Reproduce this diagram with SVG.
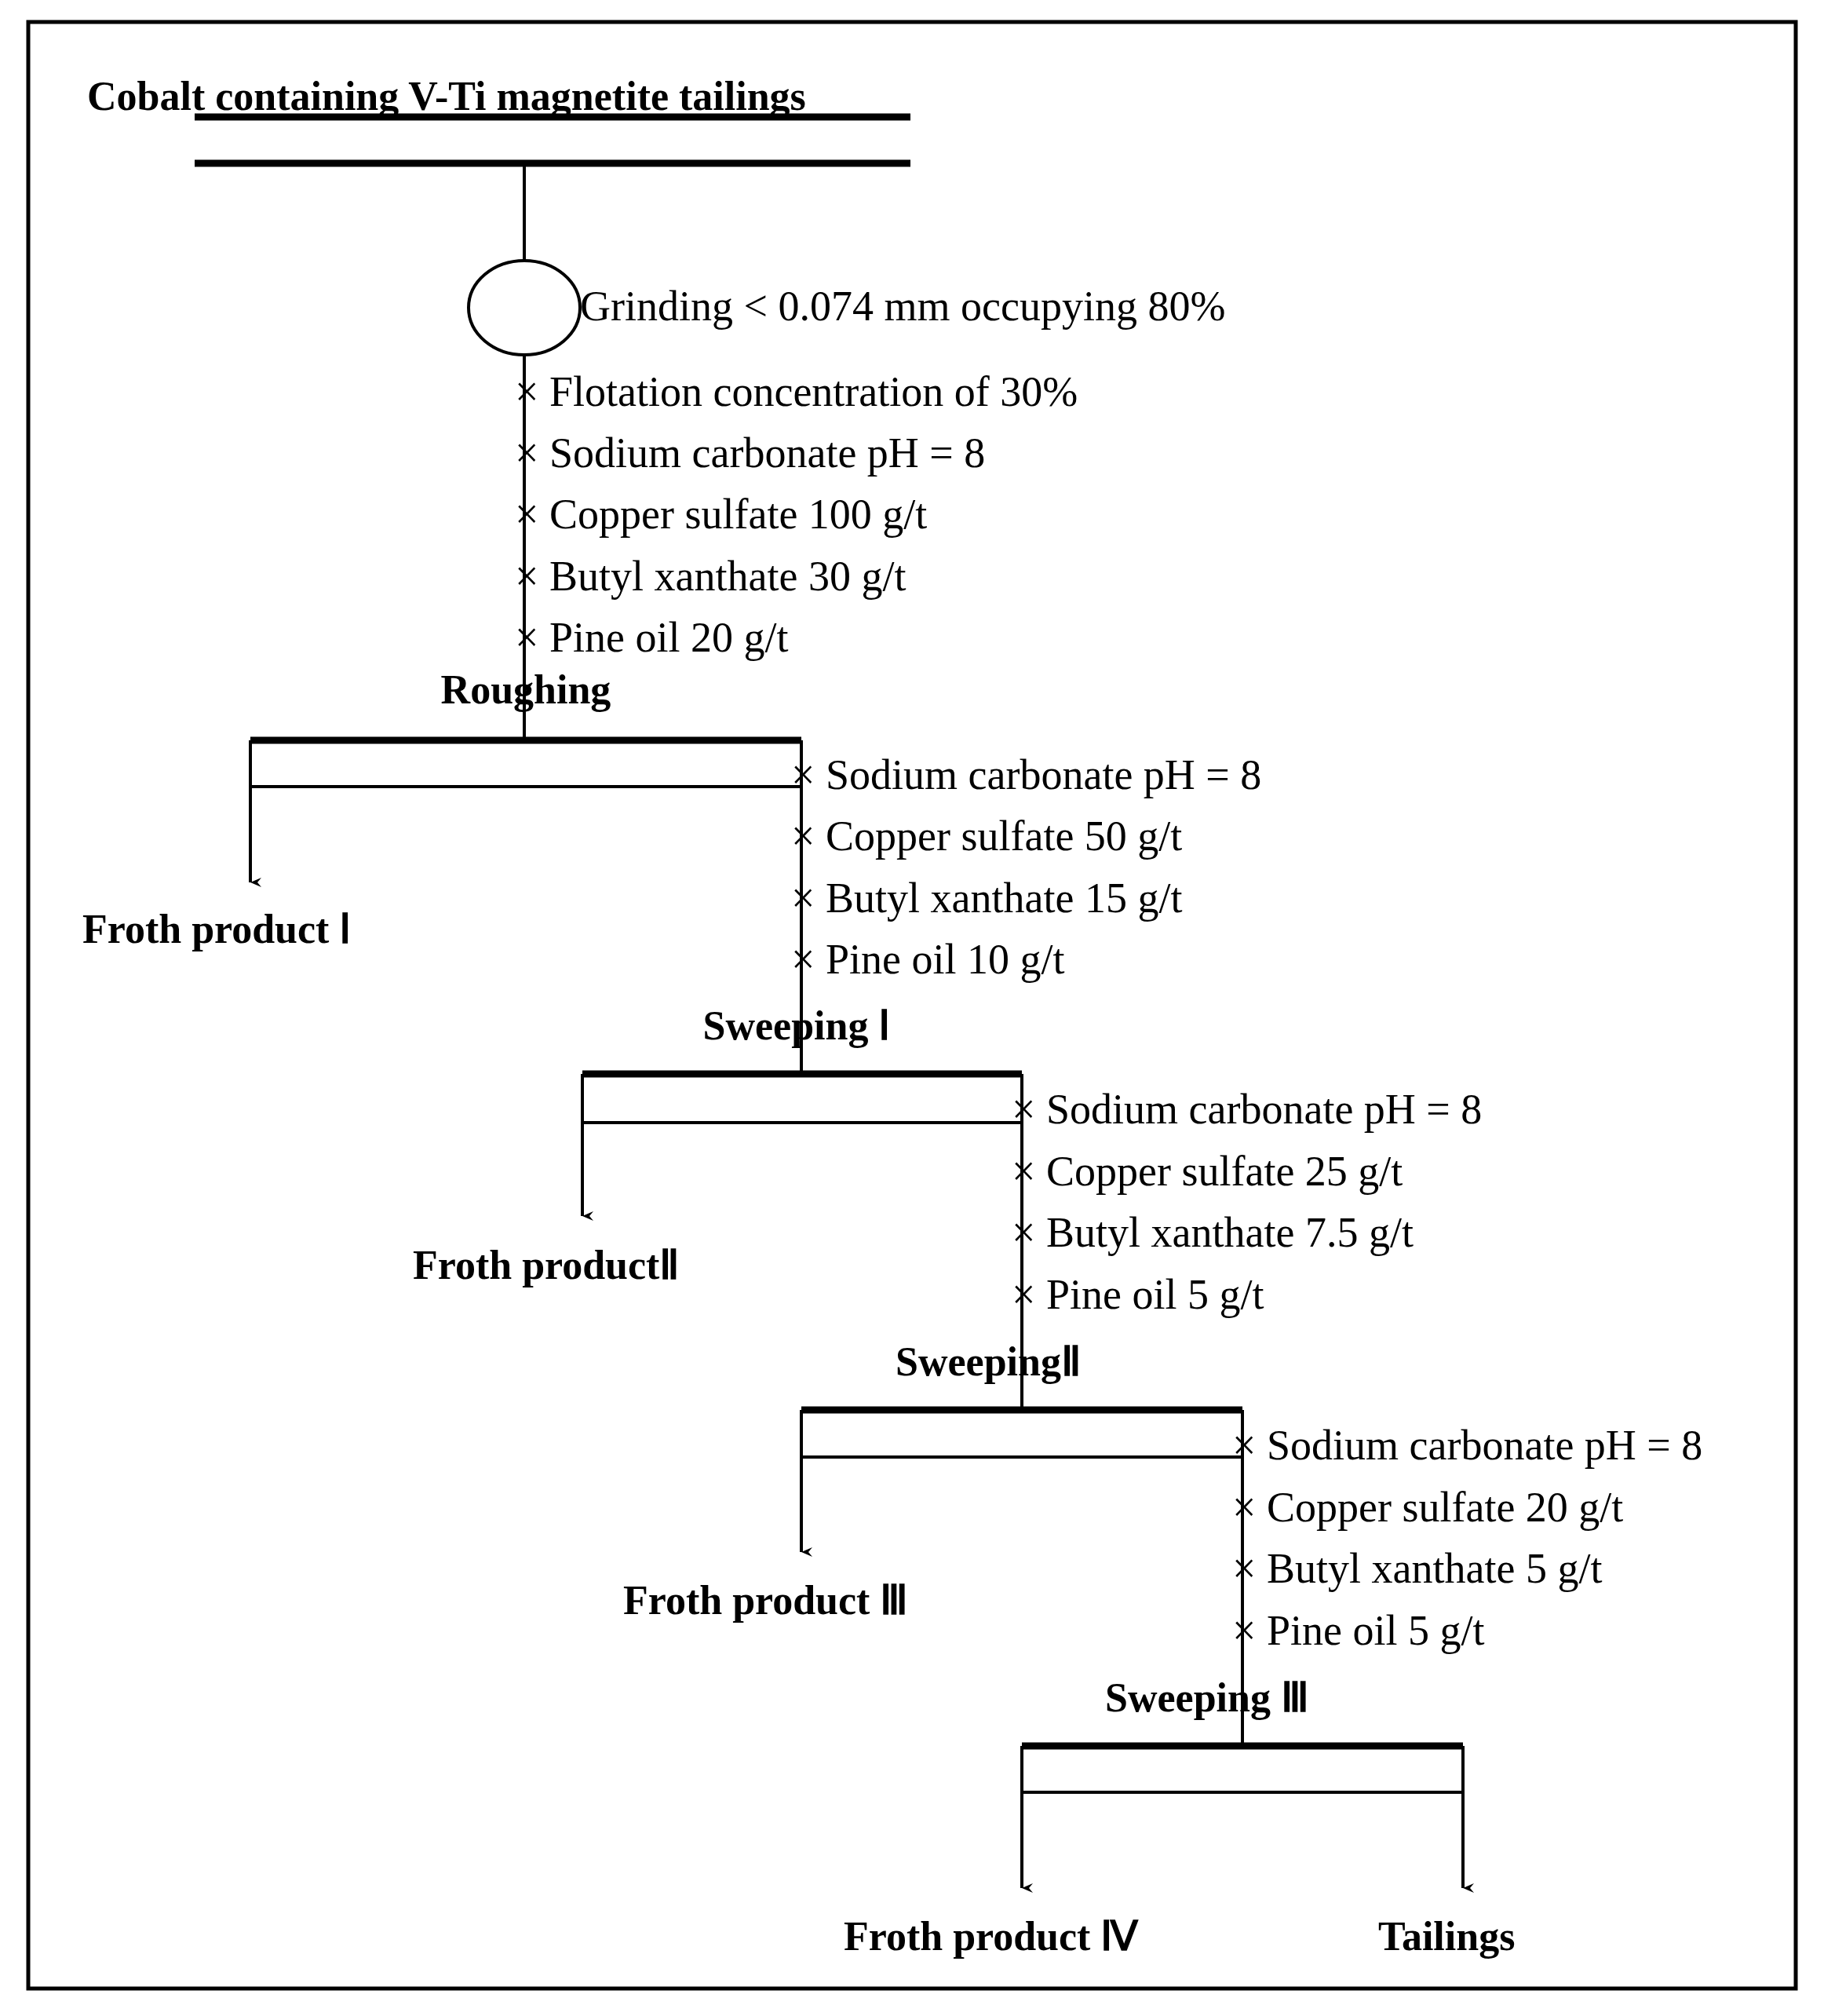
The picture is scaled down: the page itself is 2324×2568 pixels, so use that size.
<svg xmlns="http://www.w3.org/2000/svg" width="2324" height="2568" viewBox="0 0 2324 2568">
<defs>
<style>
.t{font-family:"Liberation Serif",serif;font-size:54px;fill:#000}
.b{font-family:"Liberation Serif",serif;font-size:52px;font-weight:bold;fill:#000}
.thk{stroke:#000;stroke-width:9;fill:none}
.ln{stroke:#000;stroke-width:4;fill:none}
</style>
<marker id="ah" markerWidth="12" markerHeight="14" refX="6" refY="14" orient="auto" markerUnits="userSpaceOnUse" viewBox="0 0 12 14"><path d="M0,0 L6,14 L12,0 L6,5 Z" fill="#000"/></marker>
</defs>
<rect x="36" y="28" width="2252" height="2505" fill="none" stroke="#000" stroke-width="5"/>
<g id="feed">
<text class="b" x="111" y="140">Cobalt containing V-Ti magnetite tailings</text>
<line class="thk" x1="248" y1="149" x2="1160" y2="149"/>
<line class="thk" x1="248" y1="208" x2="1160" y2="208"/>
</g>
<g id="grinding">
<ellipse cx="668" cy="392" rx="71" ry="60" class="ln"/>
<text class="t" x="739" y="408">Grinding &lt; 0.074 mm occupying 80%</text>
</g>
<g id="reag1" class="t">
<text x="656" y="517">× Flotation concentration of 30%</text>
<text x="656" y="595">× Sodium carbonate pH = 8</text>
<text x="656" y="673">× Copper sulfate 100 g/t</text>
<text x="656" y="752">× Butyl xanthate 30 g/t</text>
<text x="656" y="830">× Pine oil 20 g/t</text>
</g>
<g id="roughing">
<text class="b" x="670" y="896" text-anchor="middle">Roughing</text>
<line class="thk" x1="319" y1="943" x2="1021" y2="943"/>
<line class="ln" x1="319" y1="1002" x2="1021" y2="1002"/>
</g>
<g id="froth1"><text class="b" x="105" y="1201">Froth product Ⅰ</text></g>
<g id="reag2" class="t">
<text x="1008" y="1005">× Sodium carbonate pH = 8</text>
<text x="1008" y="1083">× Copper sulfate 50 g/t</text>
<text x="1008" y="1162">× Butyl xanthate 15 g/t</text>
<text x="1008" y="1240">× Pine oil 10 g/t</text>
</g>
<g id="sweep1">
<text class="b" x="1015" y="1324" text-anchor="middle">Sweeping Ⅰ</text>
<line class="thk" x1="742" y1="1368" x2="1302" y2="1368"/>
<line class="ln" x1="742" y1="1430" x2="1302" y2="1430"/>
</g>
<g id="froth2"><text class="b" x="526" y="1629">Froth productⅡ</text></g>
<g id="reag3" class="t">
<text x="1289" y="1431">× Sodium carbonate pH = 8</text>
<text x="1289" y="1510">× Copper sulfate 25 g/t</text>
<text x="1289" y="1588">× Butyl xanthate 7.5 g/t</text>
<text x="1289" y="1667">× Pine oil 5 g/t</text>
</g>
<g id="sweep2">
<text class="b" x="1141" y="1752">SweepingⅡ</text>
<line class="thk" x1="1021" y1="1796" x2="1583" y2="1796"/>
<line class="ln" x1="1021" y1="1856" x2="1583" y2="1856"/>
</g>
<g id="froth3"><text class="b" x="794" y="2056">Froth product  Ⅲ</text></g>
<g id="reag4" class="t">
<text x="1570" y="1859">× Sodium carbonate pH = 8</text>
<text x="1570" y="1938">× Copper sulfate 20 g/t</text>
<text x="1570" y="2016">× Butyl xanthate 5 g/t</text>
<text x="1570" y="2095">× Pine oil 5 g/t</text>
</g>
<g id="sweep3">
<text class="b" x="1408" y="2180">Sweeping  Ⅲ</text>
<line class="thk" x1="1302" y1="2224" x2="1864" y2="2224"/>
<line class="ln" x1="1302" y1="2283" x2="1864" y2="2283"/>
</g>
<g id="froth4"><text class="b" x="1075" y="2484">Froth product  Ⅳ</text></g>
<g id="tailings"><text class="b" x="1756" y="2484">Tailings</text></g>
<g id="connectors" class="ln">
<line x1="668" y1="208" x2="668" y2="332"/>
<line x1="668" y1="452" x2="668" y2="943"/>
<line x1="319" y1="943" x2="319" y2="1124" marker-end="url(#ah)"/>
<line x1="1021" y1="943" x2="1021" y2="1368"/>
<line x1="742" y1="1368" x2="742" y2="1549" marker-end="url(#ah)"/>
<line x1="1302" y1="1368" x2="1302" y2="1796"/>
<line x1="1021" y1="1796" x2="1021" y2="1977" marker-end="url(#ah)"/>
<line x1="1583" y1="1796" x2="1583" y2="2224"/>
<line x1="1302" y1="2224" x2="1302" y2="2405" marker-end="url(#ah)"/>
<line x1="1864" y1="2224" x2="1864" y2="2405" marker-end="url(#ah)"/>
</g>
</svg>
